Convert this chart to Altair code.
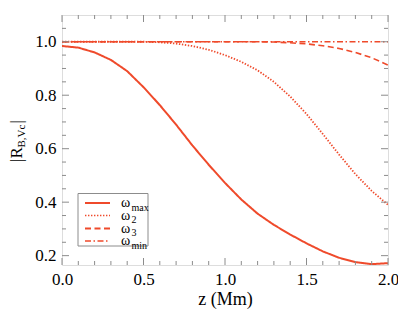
import altair as alt
import pandas as pd

# ---- data ----
z = [0.0, 0.1, 0.2, 0.3, 0.4, 0.5, 0.6, 0.7, 0.8, 0.9, 1.0,
     1.1, 1.2, 1.3, 1.4, 1.5, 1.6, 1.7, 1.8, 1.9, 2.0]
w_max = [0.984, 0.978, 0.960, 0.932, 0.890, 0.830, 0.763, 0.690, 0.612, 0.540, 0.472,
         0.410, 0.357, 0.315, 0.279, 0.246, 0.216, 0.192, 0.176, 0.168, 0.172]
w_2 = [1.0, 1.0, 1.0, 1.0, 1.0, 1.0, 0.998, 0.993, 0.984, 0.970, 0.950,
       0.925, 0.893, 0.850, 0.795, 0.730, 0.655, 0.578, 0.505, 0.442, 0.390]
w_3 = [1.0, 1.0, 1.0, 1.0, 1.0, 1.0, 1.0, 1.0, 1.0, 1.0, 1.0,
       1.0, 1.0, 0.999, 0.996, 0.992, 0.985, 0.975, 0.960, 0.940, 0.913]
w_min = [1.0] * 21

series_names = ["max", "2", "3", "min"]
x_major = [0.0, 0.5, 1.0, 1.5, 2.0]
x_minor = [0.1, 0.2, 0.3, 0.4, 0.6, 0.7, 0.8, 0.9, 1.1, 1.2, 1.3, 1.4,
           1.6, 1.7, 1.8, 1.9]
y_major = [0.2, 0.4, 0.6, 0.8, 1.0]
y_minor = [0.25, 0.3, 0.35, 0.45, 0.5, 0.55, 0.65, 0.7, 0.75, 0.85, 0.9, 0.95, 1.05]

# ---- styling ----
W, H = 326, 250
RED = "#ef4a2b"
FRAME = "#8c8c8c"
FONT = "Liberation Serif"
LBL = 17
dashes = [[1, 0], [1.4, 1.6], [6, 3.5], [6, 2.5, 1.5, 2.5]]
widths = [2.0, 1.4, 2.0, 1.6]

XS = alt.Scale(domain=[0, 2], nice=False, zero=False)
YS = alt.Scale(domain=[0.165, 1.10], nice=False, zero=False)

XAX = alt.Axis(values=x_major, format=".1f", title="z (Mm)",
               ticks=False, domain=False, grid=False,
               labelFont=FONT, labelFontSize=LBL, labelColor="black",
               labelPadding=6, labelFlush=False, labelOverlap=False,
               titleFont=FONT, titleFontSize=18, titleFontWeight="normal",
               titleColor="black", titlePadding=3)
YAX = alt.Axis(values=y_major, format=".1f", title="",
               ticks=False, domain=False, grid=False,
               labelFont=FONT, labelFontSize=LBL, labelColor="black",
               labelPadding=6, labelOverlap=False)

rows = []
for name, vals in zip(series_names, [w_max, w_2, w_3, w_min]):
    for zz, v in zip(z, vals):
        rows.append({"z": zz, "R": v, "series": name})
df = pd.DataFrame(rows)

lines = alt.Chart(df).mark_line(color=RED, clip=True).encode(
    x=alt.X("z:Q", scale=XS, axis=XAX),
    y=alt.Y("R:Q", scale=YS, axis=YAX),
    strokeDash=alt.StrokeDash("series:N", scale=alt.Scale(domain=series_names, range=dashes), legend=None),
    strokeWidth=alt.StrokeWidth("series:N", scale=alt.Scale(domain=series_names, range=widths), legend=None),
    detail="series:N",
)

def xticks(vals, length):
    d = pd.DataFrame({"z": vals})
    b = alt.Chart(d).mark_rule(color=FRAME, strokeWidth=1).encode(
        x=alt.X("z:Q", scale=XS, axis=XAX), y=alt.value(H), y2=alt.value(H - length))
    t = alt.Chart(d).mark_rule(color=FRAME, strokeWidth=1).encode(
        x=alt.X("z:Q", scale=XS, axis=XAX), y=alt.value(0), y2=alt.value(length))
    return [b, t]

def yticks(vals, length):
    d = pd.DataFrame({"R": vals})
    l = alt.Chart(d).mark_rule(color=FRAME, strokeWidth=1).encode(
        y=alt.Y("R:Q", scale=YS, axis=YAX), x=alt.value(0), x2=alt.value(length))
    r = alt.Chart(d).mark_rule(color=FRAME, strokeWidth=1).encode(
        y=alt.Y("R:Q", scale=YS, axis=YAX), x=alt.value(W), x2=alt.value(W - length))
    return [l, r]

tick_layers = xticks(x_major, 7) + xticks(x_minor, 4) + yticks(y_major, 7) + yticks(y_minor, 4)

# ---- y-axis title |R_{B,Vc}| ----
one = pd.DataFrame({"a": [0]})
ytitle = [
    alt.Chart(one).mark_text(text="|R", font=FONT, fontSize=17, angle=270, align="left",
                             baseline="alphabetic", color="black").encode(
        x=alt.value(-40), y=alt.value(147)),
    alt.Chart(one).mark_text(text="B,Vc", font=FONT, fontSize=11, angle=270, align="left",
                             baseline="alphabetic", color="black").encode(
        x=alt.value(-37), y=alt.value(132.5)),
    alt.Chart(one).mark_text(text="|", font=FONT, fontSize=17, angle=270, align="left",
                             baseline="alphabetic", color="black").encode(
        x=alt.value(-40), y=alt.value(108.5)),
]

# ---- legend ----
legend_box = alt.Chart(one).mark_rect(fill="white", stroke=FRAME, strokeWidth=1).encode(
    x=alt.value(16), x2=alt.value(86), y=alt.value(178.5), y2=alt.value(231))
row_y = [188, 200.5, 213.5, 226]
legend_layers = [legend_box]
for name, dash, wdt, ry in zip(series_names, dashes, widths, row_y):
    legend_layers.append(
        alt.Chart(one).mark_rule(color=RED, strokeDash=dash, strokeWidth=wdt).encode(
            x=alt.value(23), x2=alt.value(48), y=alt.value(ry)))
    legend_layers.append(
        alt.Chart(one).mark_text(text="ω", font=FONT, fontSize=14, align="left",
                                 baseline="alphabetic", color="black").encode(
            x=alt.value(59), y=alt.value(ry + 4)))
    legend_layers.append(
        alt.Chart(one).mark_text(text=name, font=FONT, fontSize=10, align="left",
                                 baseline="alphabetic", color="black").encode(
            x=alt.value(69.5), y=alt.value(ry + 7.5)))

chart = alt.layer(lines, *tick_layers, *ytitle, *legend_layers).properties(
    width=W, height=H,
    autosize=alt.AutoSizeParams(type="none"),
    padding={"left": 54, "top": 7, "right": 10, "bottom": 45},
).configure_view(
    stroke=FRAME, strokeWidth=1
).configure_axis(
    labelFont=FONT, titleFont=FONT, titleFontWeight="normal",
    labelColor="black", titleColor="black"
).configure(background="white", font=FONT)

chart.save("out.html", embed_options={"renderer": "svg", "actions": False})
